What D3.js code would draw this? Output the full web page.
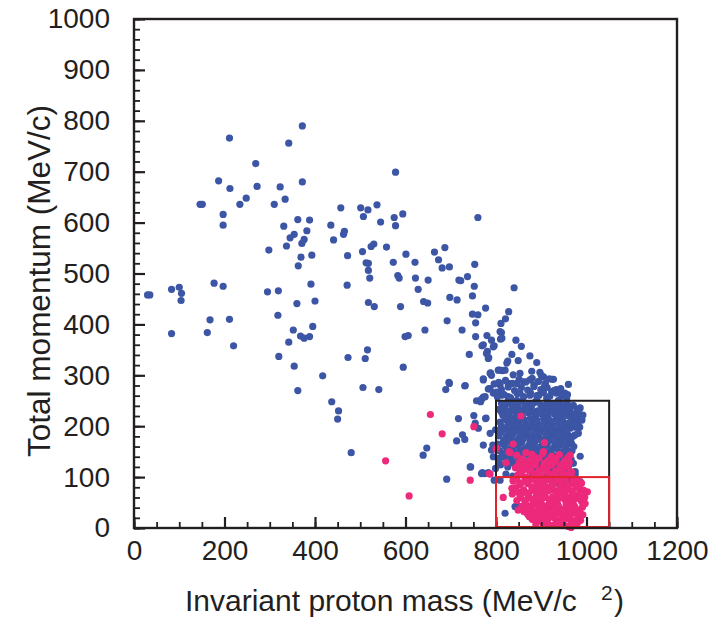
<!DOCTYPE html>
<html>
<head>
<meta charset="utf-8">
<script src="https://cdn.jsdelivr.net/npm/d3@7"></script>
<style>
  body { margin: 0; background: #fff; }
  svg { display: block; font-family: "Liberation Sans", Arial, sans-serif; }
</style>
</head>
<body>
<div id="chart"></div>
<script>
// axis ticks
const xMajorTicks = [0, 200, 400, 600, 800, 1000, 1200];
const yMajorTicks = [0, 100, 200, 300, 400, 500, 600, 700, 800, 900, 1000];
const xMinorTicks = d3.range(0, 1201, 50);
const yMinorTicks = d3.range(0, 1001, 20);

// selection boxes [mass min, mass max, momentum min, momentum max]
const blackBox = [800, 1050, 0, 250];
const redBox = [800, 1050, 0, 100];

// events: [invariant mass, total momentum]
const bluePoints = [
  [30,458],[35,458],[83,469],[100,473],[105,461],[104,447],[83,382],[146,636],[151,636],[211,766],
  [187,682],[212,667],[197,616],[197,595],[234,636],[248,648],[269,716],[272,671],[177,481],[197,475],
  [168,409],[162,384],[211,410],[220,358],[298,546],[295,464],[319,466],[318,418],[320,337],[342,756],
  [372,790],[372,680],[323,670],[334,646],[310,636],[362,606],[388,605],[331,593],[382,584],[354,577],
  [345,570],[376,567],[371,559],[337,554],[393,536],[369,532],[363,515],[391,479],[400,446],[360,441],
  [352,389],[395,396],[368,377],[376,373],[388,376],[342,365],[354,318],[362,270],[417,299],[437,248],
  [435,595],[441,566],[457,629],[463,577],[465,583],[472,535],[471,477],[473,335],[501,629],[507,612],
  [517,625],[537,635],[545,601],[578,699],[575,610],[578,594],[594,617],[505,543],[524,553],[530,558],
  [558,552],[513,521],[518,520],[518,506],[521,491],[573,522],[601,538],[621,522],[583,496],[586,491],
  [622,491],[628,469],[650,487],[518,443],[531,435],[589,435],[640,445],[649,442],[643,389],[599,376],
  [606,378],[516,350],[511,333],[595,316],[506,276],[541,272],
  [452,230],[450,214],[480,148],[647,157],[639,143],[691,96],[743,120],[768,107],[783,109],[713,171],
  [731,174],[726,183],[717,215],[751,221],[754,206],[761,196],[777,215],[757,250],[766,248],[772,257],
  [689,272],[697,284],[732,280],[783,273],[794,265],[799,193],[790,153],[794,140],[799,117],[796,94],
  [772,291],
  [760,610],[664,542],[687,551],[673,527],[681,511],[697,513],[753,518],[718,487],[722,486],[737,494],
  [752,475],[748,456],[840,472],[698,453],[714,448],[777,432],[748,420],[760,419],[755,403],[692,407],
  [725,389],[828,425],[821,411],[811,402],[812,384],[810,371],[755,376],[780,378],[790,369],[796,358],
  [769,358],[781,347],[784,335],[741,341],[844,369],[856,357],[835,341],[875,338],[890,325],[849,329],
  [824,324],[826,328],[805,310],[814,309],[788,305],[790,300],[772,293],[696,286],[731,279],[785,274],
  [796,283],[879,308],[897,306],[900,300],[924,292],[960,282],[768,253],
  [809,386],[813,373],[794,356],[772,360],[779,343],[783,333],[820,310],[809,310],[787,304],[838,301],
  [853,304],[905,297],[927,292],[875,291],[861,287],[884,281],[907,278],[846,284],[827,284],[809,281],
  [787,274],[801,267],[776,258],[933,265],[923,268],[945,261],[952,265],[853,265],[875,261],
  [895,261],[827,258],[812,261],[846,251],[890,251],[912,255],[938,251],[956,255],[982,228],[975,219],
  [968,209],[971,199],[815,227],[778,216],[838,232],[835,216],[838,206],
  [809,189],[838,186],[868,183],[895,179],[927,183],[956,179],[975,183],[982,186],[941,170],[967,166],
  [986,141],[787,186],[772,163],[793,163],[805,137],[775,107],[770,109],[809,94],[971,127],[975,111],
  [964,94],[986,91],[975,105],[820,29],[875,22],[842,42],[916,39],[871,26],[853,42],[744,120],
  [812,245],[826,248],[841,246],[857,249],[872,244],[886,247],[899,242],[914,248],[928,245],[943,243],
  [957,247],[971,241],[986,236],[806,233],[820,236],[834,231],[849,238],[863,233],[877,237],[892,230],
  [906,236],[920,231],[935,237],[949,232],[963,229],[978,226],[992,222],[815,222],[829,219],[844,225],
  [858,220],[872,226],[887,219],[901,224],[915,218],[930,223],[944,217],[958,221],[969,213],[983,211],
  [809,208],[824,211],[852,210],[866,204],[881,209],[895,203],[910,208],[924,202],[938,207],
  [952,201],[964,196],[977,198],[818,195],[832,192],[846,197],[860,191],[874,196],[889,190],[903,194],
  [917,189],[931,193],[946,188],[959,183],[972,181],[806,181],[822,178],[836,183],[851,177],[865,181],
  [879,176],[893,180],[907,174],[921,179],[935,173],[949,177],[962,170],[814,166],[829,170],[843,164],
  [857,168],[872,162],[885,166],[899,160],[913,164],[928,159],[942,163],[955,157],[968,152],[808,152],
  [824,155],[839,149],[853,153],[868,147],[882,151],[896,145],[911,149],[925,143],[940,147],[952,139],
  [966,135],[818,139],[833,135],[848,140],[862,133],[877,137],[891,131],[905,134],[920,128],[934,132],
  [947,125],[960,120],[810,124],[826,120],[841,125],[856,118],[870,122],[884,115],[899,119],[913,112],
  [927,116],[941,108],[955,104],[970,110],[822,106],[837,102],[852,106],[866,99],[880,103],[895,96],
  [909,100],[923,92],[937,88],[951,84],
  [803,258],[818,262],[832,256],[847,264],[861,258],[876,266],[890,260],[905,266],[919,259],[933,272],
  [947,259],[958,262],[812,272],[827,277],[841,270],[856,276],[870,271],[884,278],[899,272],[913,276],
  [928,270],[943,274],[806,286],[821,290],[836,284],[851,292],[866,287],[880,294],[894,288],[909,284],
  [918,293],
  [819,240],[834,242],[864,240],[879,241],[907,240],[921,239],[950,238],[964,237],[979,233],
  [812,228],[826,229],[841,230],[855,228],[869,230],[884,228],[898,229],[912,227],[926,228],[940,226],
  [955,225],[970,222],[985,219],[820,214],[834,213],[848,215],[862,213],[876,215],[890,212],[905,214],
  [919,211],[933,213],[948,210],[962,207],[976,205],[990,212],[812,200],[827,201],[841,201],[855,199],
  [870,201],[884,198],[898,200],[912,197],[926,199],[941,196],[956,194],[985,198],[811,188],[826,186],
  [840,189],[854,186],[868,188],[883,185],[897,187],[911,183],[925,186],[939,183],[953,181],[966,176],
  [817,172],[832,176],[846,172],[860,175],[875,171],[889,173],[903,169],[917,171],[931,168],[945,170],
  [958,165],[972,160],[804,165],[820,161],[835,158],[849,160],[864,156],[878,158],[892,155],[906,157],
  [921,153],[935,155],[948,150],[961,146],[814,146],[829,143],[844,146],[858,142],[873,144],[887,140],
  [901,142],[915,138],[930,140],[944,136],[958,130],[806,131],[822,128],[837,130],[851,127],[866,129],
  [880,125],[895,127],[909,123],[923,124],[938,120],[952,116]
];

const pinkPoints = [
  [846,143],[866,148],[884,141],[903,146],[921,139],[940,144],[958,138],
  [852,130],[870,126],[889,133],[907,127],[926,131],[944,124],[962,129],
  [843,118],[860,114],[878,120],[896,113],[914,119],[932,112],[950,117],[967,110],
  [848,104],[865,100],[883,107],[901,101],[919,106],[937,99],[955,104],[972,97],
  [838,92],[855,88],[873,94],[891,87],[909,93],[927,86],[945,91],[962,85],[980,90],
  [843,79],[861,75],[879,81],[897,74],[915,80],[933,73],[951,78],[968,72],[986,77],
  [836,67],[853,63],[871,69],[889,62],[907,68],[925,61],[943,66],[960,60],[978,65],[996,60],
  [846,54],[864,50],[882,56],[900,49],[918,55],[936,48],[954,53],[971,47],[989,52],
  [857,42],[875,38],[893,44],[911,37],[929,43],[947,36],[965,41],[982,35],
  [868,30],[886,26],[904,32],[922,25],[940,31],[958,24],[975,29],[992,26],
  [880,17],[898,13],[916,19],[934,12],[952,17],[970,11],[987,15],
  [890,70],[905,60],[915,45],[925,75],[935,58],[945,85],[955,45],[900,85],[920,95],[930,40],
  [940,70],[950,62],[960,75],[910,78],[895,52],[880,45],[870,58],[885,95],[960,35],[970,55],
  [945,20],[925,28],[905,25],[915,8],[950,5],[962,3],
  [801,157],[838,165],[831,148],[822,128],[785,107],[907,168],[905,150],[879,145],[923,141],[964,143],
  [849,35],[866,37],[894,35],[894,22],[916,22],[930,19],[948,26],[964,16],[982,19],[985,32],
  [960,3],[1002,71],[993,52],[971,61],[982,94],[975,85],[986,75],[835,78],[849,71],[816,60],
  [838,94],[853,107],[846,120],[861,117],[864,130],[886,127],[908,127],[930,130],[945,120],
  [855,220],[829,150],[787,106],[978,16],[966,1],
  [608,63],[556,132],[655,223],[681,185],[751,199],[743,94],[800,155],
  [858,136],[876,134],[895,137],[914,132],[933,136],[951,131],
  [851,124],[869,120],[887,124],[905,121],[923,124],[941,118],[959,121],
  [856,109],[874,112],[892,108],[910,111],[928,106],[946,110],[964,106],
  [846,97],[864,94],[882,99],[900,95],[918,98],[936,94],[954,97],[971,92],[989,88],
  [852,85],[870,87],[888,82],[906,86],[924,82],[942,79],[959,82],[977,80],[994,74],
  [845,72],[862,70],[880,74],[898,70],[916,73],[934,67],[952,71],[969,68],[987,67],
  [855,59],[873,62],[891,57],[909,61],[927,55],[945,59],[963,55],[980,58],[997,48],
  [866,46],[884,49],[902,44],[920,48],[938,43],[956,46],[974,42],[991,41],
  [862,32],[880,34],[898,30],[916,33],[934,30],[952,33],[969,30],[987,28],
  [874,22],[892,20],[910,16],[928,21],[946,13],[964,22],[980,10],
  [888,8],[905,5],[925,5],[940,7],[975,6]
];

const width = 713;
const height = 617;
const ink = "#231f20";

const svg = d3.select("#chart")
  .append("svg")
  .attr("width", width)
  .attr("height", height);

// scales
const x = d3.scaleLinear().domain([0, 1200]).range([134, 677]);
const y = d3.scaleLinear().domain([0, 1000]).range([528, 19]);

// points, pink drawn on top of blue
svg.append("g")
  .selectAll("circle")
  .data(bluePoints)
  .enter()
  .append("circle")
  .attr("cx", d => x(d[0]))
  .attr("cy", d => y(d[1]))
  .attr("r", 3.6)
  .attr("fill", "#3c55a5");

svg.append("g")
  .selectAll("circle")
  .data(pinkPoints)
  .enter()
  .append("circle")
  .attr("cx", d => x(d[0]))
  .attr("cy", d => y(d[1]))
  .attr("r", 3.6)
  .attr("fill", "#ec297b");

// minor ticks (inward)
svg.append("g")
  .attr("transform", "translate(134,0)")
  .call(d3.axisLeft(y).tickValues(yMinorTicks).tickSize(-6).tickFormat(""))
  .call(g => g.select(".domain").remove())
  .call(g => g.selectAll("line").attr("stroke", ink).attr("stroke-width", 1.8));

svg.append("g")
  .attr("transform", "translate(0,528)")
  .call(d3.axisBottom(x).tickValues(xMinorTicks).tickSize(-6).tickFormat(""))
  .call(g => g.select(".domain").remove())
  .call(g => g.selectAll("line").attr("stroke", ink).attr("stroke-width", 1.8));

// major ticks with labels
svg.append("g")
  .attr("transform", "translate(134,0)")
  .call(d3.axisLeft(y).tickValues(yMajorTicks).tickFormat(d3.format("d"))
    .tickSizeInner(-11).tickSizeOuter(0).tickPadding(24))
  .call(g => g.select(".domain").remove())
  .call(g => g.selectAll("line").attr("stroke", ink).attr("stroke-width", 2.2))
  .call(g => g.selectAll("text").attr("fill", ink).attr("font-size", 28).attr("font-family", "Liberation Sans, Arial, sans-serif"));

svg.append("g")
  .attr("transform", "translate(0,528)")
  .call(d3.axisBottom(x).tickValues(xMajorTicks).tickFormat(d3.format("d"))
    .tickSizeInner(-11).tickSizeOuter(0).tickPadding(12))
  .call(g => g.select(".domain").remove())
  .call(g => g.selectAll("line").attr("stroke", ink).attr("stroke-width", 2.2))
  .call(g => g.selectAll("text").attr("fill", ink).attr("font-size", 28).attr("font-family", "Liberation Sans, Arial, sans-serif"));

// selection boxes
svg.append("rect")
  .attr("x", x(blackBox[0]))
  .attr("y", y(blackBox[3]))
  .attr("width", x(blackBox[1]) - x(blackBox[0]))
  .attr("height", y(blackBox[2]) - y(blackBox[3]))
  .attr("fill", "none")
  .attr("stroke", ink)
  .attr("stroke-width", 2);

svg.append("rect")
  .attr("x", x(redBox[0]))
  .attr("y", y(redBox[3]))
  .attr("width", x(redBox[1]) - x(redBox[0]))
  .attr("height", y(redBox[2]) - y(redBox[3]) - 1)
  .attr("fill", "none")
  .attr("stroke", "#e3232b")
  .attr("stroke-width", 2);

// frame
svg.append("rect")
  .attr("x", 134)
  .attr("y", 19)
  .attr("width", 677 - 134)
  .attr("height", 528 - 19)
  .attr("fill", "none")
  .attr("stroke", ink)
  .attr("stroke-width", 2.4);

// axis titles
const xTitle = svg.append("text")
  .attr("x", 185)
  .attr("y", 611)
  .attr("font-size", 30)
  .attr("fill", ink);
xTitle.append("tspan").text("Invariant proton mass (MeV/c");
xTitle.append("tspan").attr("x", 601).attr("y", 600).attr("font-size", 21).text("2");
xTitle.append("tspan").attr("x", 614).attr("y", 611).text(")");

svg.append("text")
  .attr("transform", "translate(50,281) rotate(-90)")
  .attr("text-anchor", "middle")
  .attr("font-size", 31.5)
  .attr("fill", ink)
  .text("Total momentum (MeV/c)");
</script>
</body>
</html>
